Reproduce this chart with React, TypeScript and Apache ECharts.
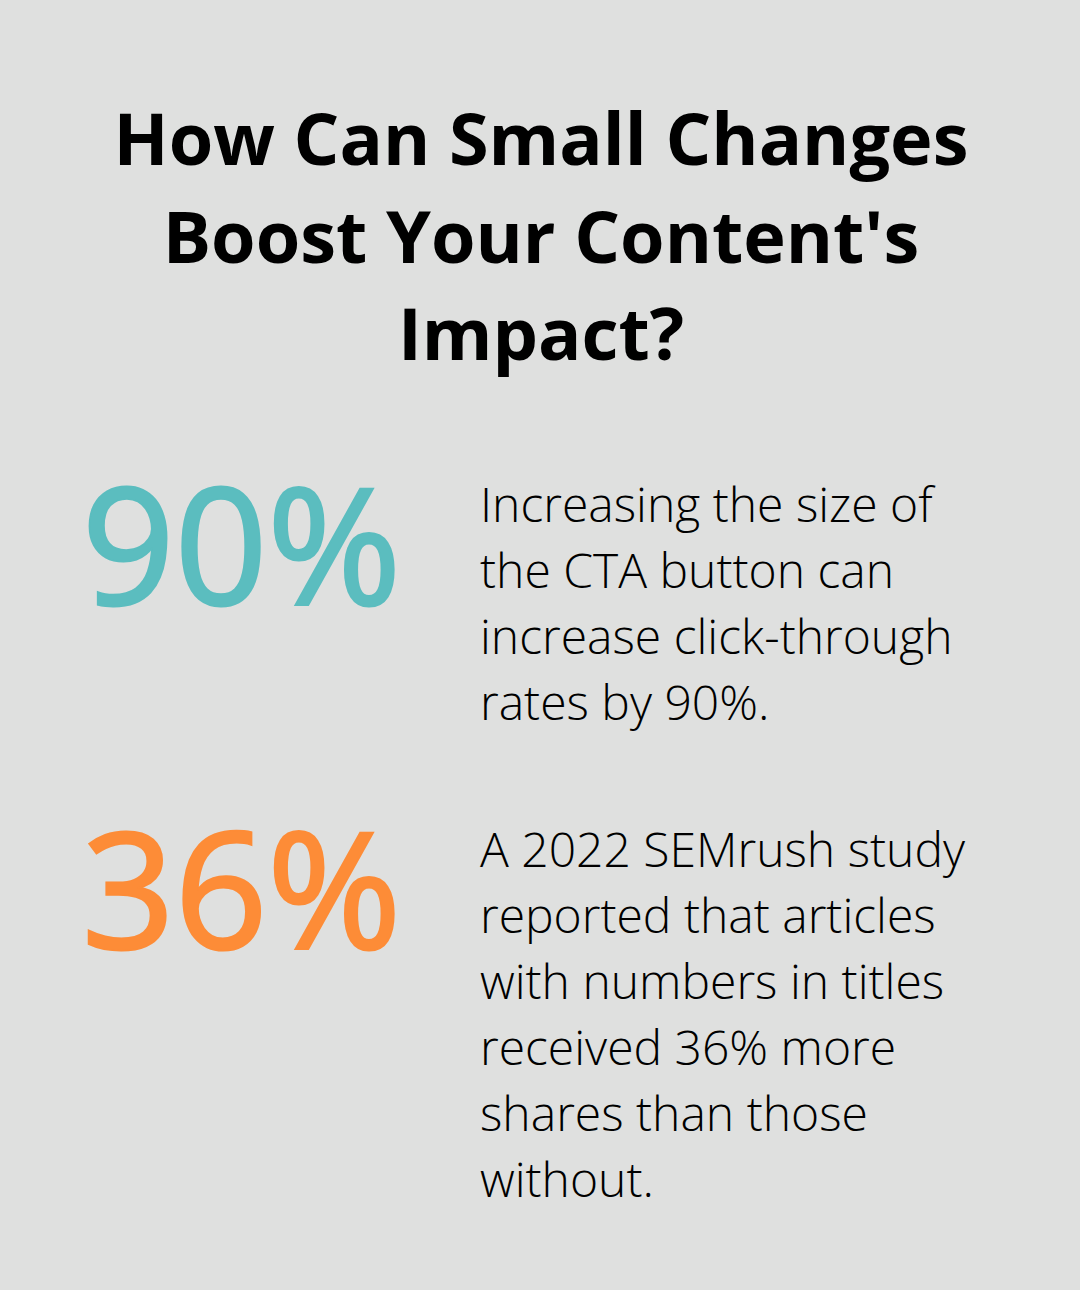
import React, { useEffect, useRef } from "react";
import * as echarts from "echarts";

const titleLines = ["How Can Small Changes", "Boost Your Content's", "Impact?"];
const statValues = ["90%", "36%"];
const statColors = ["#5bbdbf", "#fd8c37"];
const statDescriptions = [
  ["Increasing the size of", "the CTA button can", "increase click-through", "rates by 90%."],
  [
    "A 2022 SEMrush study",
    "reported that articles",
    "with numbers in titles",
    "received 36% more",
    "shares than those",
    "without.",
  ],
];

const FONT = '"Open Sans", "Noto Sans", sans-serif';

export default function App() {
  const ref = useRef<HTMLDivElement>(null);

  useEffect(() => {
    document.body.style.margin = "0";
    if (!ref.current) return;
    const chart = echarts.init(ref.current, undefined, { renderer: "svg" });

    const elements: any[] = [];
    const titleY = [137, 235, 332];
    titleLines.forEach((t, i) => {
      elements.push({
        type: "text",
        x: 541,
        y: titleY[i],
        style: {
          text: t,
          fill: "#000000",
          font: `700 72px ${FONT}`,
          align: "center",
          verticalAlign: "middle",
        },
      });
    });

    const statY = [541, 885];
    const descStart = [503, 848];
    statValues.forEach((v, i) => {
      elements.push({
        type: "text",
        x: 82,
        y: statY[i],
        style: {
          text: v,
          fill: statColors[i],
          stroke: statColors[i],
          lineWidth: 3,
          font: `400 162px ${FONT}`,
          align: "left",
          verticalAlign: "middle",
        },
      });
      statDescriptions[i].forEach((line, j) => {
        elements.push({
          type: "text",
          x: 480,
          y: descStart[i] + j * 66,
          style: {
            text: line,
            fill: "#000000",
            font: `300 48px ${FONT}`,
            align: "left",
            verticalAlign: "middle",
          },
        });
      });
    });

    chart.setOption({
      animation: false,
      backgroundColor: "#dfe0df",
      graphic: { elements },
    });

    return () => chart.dispose();
  }, []);

  return <div ref={ref} style={{ width: 1080, height: 1290 }} />;
}
